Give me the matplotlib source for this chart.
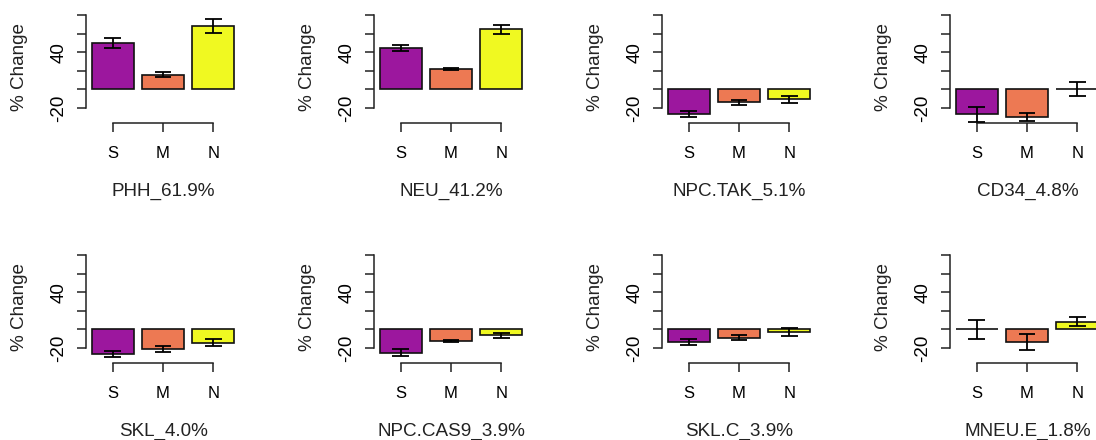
import numpy as np
import matplotlib
matplotlib.use("Agg")
import matplotlib.pyplot as plt

plt.rcParams['font.family'] = ['Liberation Sans', 'DejaVu Sans']

groups = ['S', 'M', 'N']
colors = ['#9C179E', '#ED7953', '#F0F921']

titles = ['PHH_61.9%', 'NEU_41.2%', 'NPC.TAK_5.1%', 'CD34_4.8%',
          'SKL_4.0%', 'NPC.CAS9_3.9%', 'SKL.C_3.9%', 'MNEU.E_1.8%']

# mean % change per group (S, M, N) and its error
phh_mean = [49.5, 15.8, 68.5]
phh_err = [5.3, 2.4, 7.5]
neu_mean = [44.8, 21.5, 64.5]
neu_err = [3.2, 1.1, 4.7]
npc_tak_mean = [-26.2, -14.0, -10.8]
npc_tak_err = [3.4, 3.0, 4.1]
cd34_mean = [-27.0, -30.1, 0.0]
cd34_err = [7.7, 4.5, 7.7]
skl_mean = [-26.2, -21.1, -14.3]
skl_err = [3.2, 3.0, 3.7]
npc_cas9_mean = [-25.1, -12.9, -6.5]
npc_cas9_err = [3.6, 0.9, 2.7]
skl_c_mean = [-13.6, -9.0, -2.5]
skl_c_err = [3.0, 2.5, 4.3]
mneu_e_mean = [0.0, -13.3, 8.2]
mneu_e_err = [10.5, 8.6, 5.0]

means = [phh_mean, neu_mean, npc_tak_mean, cd34_mean,
         skl_mean, npc_cas9_mean, skl_c_mean, mneu_e_mean]
errs = [phh_err, neu_err, npc_tak_err, cd34_err,
        skl_err, npc_cas9_err, skl_c_err, mneu_e_err]

W, H = 1096, 440
fig = plt.figure(figsize=(W / 100, H / 100), dpi=100)

# barplot-style positions: width 1, space 0.2
xpos = np.array([0.7, 1.9, 3.1])
yticks = [-20, 0, 20, 40, 60, 80]
ylabels = ['-20', '', '', '40', '', '']

for i, (title, m, e) in enumerate(zip(titles, means, errs)):
    r, c = divmod(i, 4)
    ox, oy = 288 * c, 240 * r
    left, right = ox + 86, ox + 240
    top, bottom = oy + 11.2, oy + 122.8
    ax = fig.add_axes([left / W, 1 - bottom / H, (right - left) / W, (bottom - top) / H])
    ax.set_xlim(0.064, 3.736)
    ax.set_ylim(-36, 84)
    ax.patch.set_alpha(0)

    ax.bar(xpos, m, width=1.0, color=colors, edgecolor='#111111', linewidth=1.2,
           clip_on=False, zorder=2)
    lo = np.array(m) - np.array(e)
    hi = np.array(m) + np.array(e)
    ax.vlines(xpos, lo, hi, color='black', linewidth=1.3, clip_on=False, zorder=3)
    ax.hlines(np.r_[lo, hi], np.r_[xpos, xpos] - 0.2, np.r_[xpos, xpos] + 0.2,
              color='black', linewidth=1.3, clip_on=False, zorder=3)

    for s in ['top', 'right']:
        ax.spines[s].set_visible(False)
    for s in ['left', 'bottom']:
        ax.spines[s].set_linewidth(1.1)
        ax.spines[s].set_color('#222222')
    ax.spines['left'].set_bounds(-20, 80)
    ax.spines['bottom'].set_bounds(xpos[0], xpos[-1])

    ax.set_yticks(yticks)
    ax.set_yticklabels(ylabels, rotation=90, va='center', fontsize=13.5)
    ax.set_xticks(xpos)
    ax.set_xticklabels(groups, fontsize=12)
    ax.tick_params(axis='y', length=6.5, width=1.1, pad=7, color='#222222')
    ax.tick_params(axis='x', length=6.5, width=1.1, pad=10.3, color='#222222')

    fig.text((ox + 19.5) / W, 1 - (oy + 67) / H, '% Change', rotation=90,
             ha='center', va='center', fontsize=13.6, color='#222222')
    fig.text((ox + 163.5) / W, 1 - (oy + 195.5) / H, title,
             ha='center', va='baseline', fontsize=13.6, color='#222222')

fig.savefig('out.png', dpi=100, facecolor='white')
